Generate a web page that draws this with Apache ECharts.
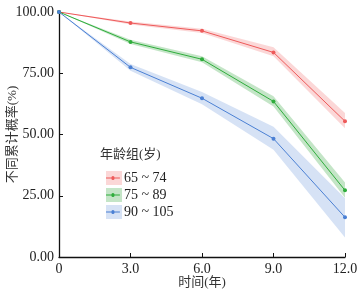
<!DOCTYPE html>
<html>
<head>
<meta charset="utf-8">
<script src="https://cdn.jsdelivr.net/npm/echarts@6/dist/echarts.min.js"></script>
<style>
  html, body { margin: 0; padding: 0; background: #fff; }
  #chart { width: 363px; height: 291px; }
</style>
</head>
<body>
<div id="chart"></div>
<script>
  // 时间 (年)
  var years = [0, 3, 6, 9, 12];
  var groupNames = ['65 ~ 74', '75 ~ 89', '90 ~ 105'];

  // 不同累计概率 (%)
  var prob65 = [100, 95.5, 92.3, 83.5, 55.4];
  var low65 = [100, 94.9, 91.4, 81.9, 52.6];
  var high65 = [100, 96.1, 93.2, 85.6, 58.8];

  var prob75 = [100, 87.8, 80.7, 63.5, 27.2];
  var low75 = [100, 86.9, 79.5, 61.4, 24.2];
  var high75 = [100, 88.7, 81.9, 65.6, 30.4];

  var prob90 = [100, 77.4, 64.8, 48.3, 16.2];
  var low90 = [100, 76.0, 62.3, 43.8, 8.0];
  var high90 = [100, 78.8, 67.3, 53.2, 24.0];

  var yTicks = [0, 25, 50, 75, 100];

  var lineColors = ['#ee5a5a', '#2fad3c', '#4b80d4'];
  var bandColors = ['rgba(240,110,110,0.28)', 'rgba(60,170,70,0.30)', 'rgba(90,140,215,0.25)'];

  var font = '"Liberation Serif", "Noto Sans CJK SC", serif';

  var chart = echarts.init(document.getElementById('chart'));

  var groups = [
    { mid: prob65, low: low65, high: high65 },
    { mid: prob75, low: low75, high: high75 },
    { mid: prob90, low: low90, high: high90 }
  ];

  function pairs(arr) {
    return years.map(function (x, i) { return [x, arr[i]]; });
  }

  var series = [];
  //置信带 (多边形)
  groups.forEach(function (g, k) {
    series.push({
      name: groupNames[k] + ' CI',
      type: 'custom',
      silent: true,
      z: 1,
      itemStyle: { color: bandColors[k] },
      data: [[0, 100]],
      renderItem: function (params, api) {
        var pts = [];
        for (var i = 0; i < years.length; i++) pts.push(api.coord([years[i], g.high[i]]));
        for (var j = years.length - 1; j >= 0; j--) pts.push(api.coord([years[j], g.low[j]]));
        return {
          type: 'polygon',
          shape: { points: pts },
          style: { fill: bandColors[k] }
        };
      }
    });
  });
  groups.forEach(function (g, k) {
    series.push({
      name: groupNames[k],
      type: 'line',
      data: pairs(g.mid),
      symbol: 'circle',
      symbolSize: 4,
      showSymbol: true,
      color: lineColors[k],
      lineStyle: { width: 1, color: lineColors[k] },
      itemStyle: { color: lineColors[k] },
      z: 3
    });
  });

  var lineIcon = 'path://M0,1.5 H6.2 A1.8,1.8 0 0,1 9.8,1.5 H16 V2.5 H9.8 A1.8,1.8 0 0,1 6.2,2.5 H0 Z';

  chart.setOption({
    animation: false,
    textStyle: { fontFamily: font },
    grid: { left: 59, right: 18, top: 12, bottom: 34, outerBoundsMode: 'none', containLabel: false },
    graphic: [{
      type: 'text',
      left: 100,
      top: 148,
      style: { text: '年龄组(岁)', font: '13px ' + font, fill: '#333' }
    }],
    legend: [{
      orient: 'vertical',
      left: 101,
      top: 166,
      itemWidth: 16,
      itemHeight: 4,
      itemGap: 3,
      z: 4,
      icon: lineIcon,
      data: groupNames,
      textStyle: { fontSize: 14, lineHeight: 14, fontFamily: font, color: '#222', padding: [0, 0, 0, -2] }
    }, {
      orient: 'vertical',
      left: 101,
      top: 166,
      itemWidth: 16,
      itemHeight: 14,
      itemGap: 3,
      z: 2,
      selectedMode: false,
      data: groupNames.map(function (n, k) {
        return { name: n + ' CI', icon: 'rect', itemStyle: { color: bandColors[k] } };
      }),
      formatter: function (name) { return name.replace(' CI', ''); },
      textStyle: { fontSize: 14, lineHeight: 14, fontFamily: font, color: 'rgba(0,0,0,0)', padding: [0, 0, 0, -2] }
    }],
    xAxis: {
      type: 'value',
      min: 0,
      max: 12,
      interval: 3,
      name: '时间(年)',
      nameLocation: 'middle',
      nameGap: 19,
      nameMoveOverlap: false,
      nameTextStyle: { fontSize: 13, fontFamily: font, color: '#333' },
      axisLine: { lineStyle: { color: '#111', width: 1.3 } },
      axisTick: { inside: true, length: 4, lineStyle: { color: '#111' } },
      axisLabel: {
        fontSize: 14, color: '#222', margin: 5,
        formatter: function (v) { return v === 0 ? '0' : v.toFixed(1); }
      },
      splitLine: { show: false }
    },
    yAxis: {
      type: 'value',
      min: yTicks[0],
      max: yTicks[yTicks.length - 1],
      interval: 25,
      name: '不同累计概率(%)',
      nameLocation: 'middle',
      nameGap: 40,
      nameMoveOverlap: false,
      nameTextStyle: { fontSize: 13, fontFamily: font, color: '#333' },
      axisLine: { show: true, lineStyle: { color: '#111', width: 1.3 } },
      axisTick: { show: true, inside: true, length: 4, lineStyle: { color: '#111' } },
      axisLabel: {
        fontSize: 14, color: '#222', margin: 5,
        formatter: function (v) { return v.toFixed(2); }
      },
      splitLine: { show: false }
    },
    series: series
  });
</script>
</body>
</html>
